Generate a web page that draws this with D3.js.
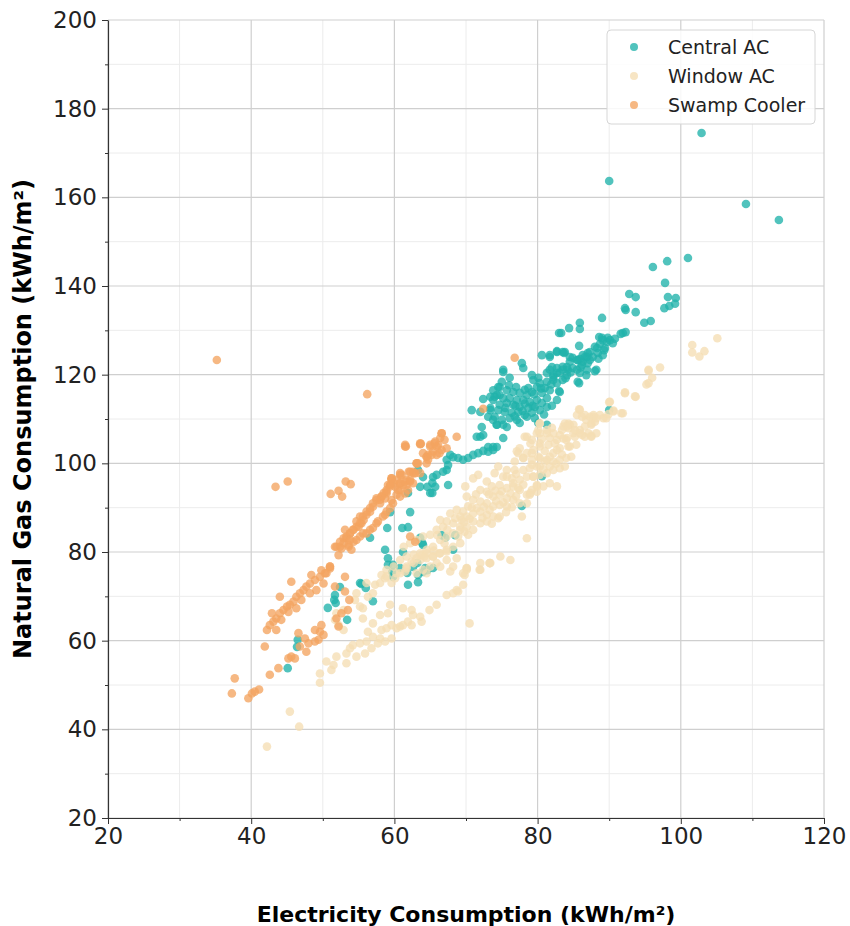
<!DOCTYPE html>
<html>
<head>
<meta charset="utf-8">
<script src="https://cdn.jsdelivr.net/npm/d3@7"></script>
<style>
  body { margin: 0; background: #fff; }
  svg { font-family: "DejaVu Sans", sans-serif; }
</style>
</head>
<body>
<svg id="myGraph" width="850" height="926"></svg>
<script>
var seriesNames = ["Central AC", "Window AC", "Swamp Cooler"];
var seriesColors = ["#20b2aa", "#f5deb3", "#f4a460"];
var xTicks = [20, 40, 60, 80, 100, 120];
var yTicks = [20, 40, 60, 80, 100, 120, 140, 160, 180, 200];

// [electricity, natural gas] in kWh/m2
var centralAC = [
[102.9,174.5],[90.0,163.7],[109.1,158.5],[113.7,154.9],[101.0,146.3],[96.1,144.3],[98.1,145.6],[97.8,140.7],[98.2,137.5],[99.3,137.3],[99.2,136.0],[98.4,135.5],[97.7,135.0],[92.8,138.2],[93.7,137.5],[92.2,135.0],[92.3,134.6],[93.7,134.1],[89.0,132.8],[95.8,132.1],[94.9,131.7],[85.9,131.7],[85.9,130.3],[84.4,130.5],[83.3,129.4],[83.0,129.4],[91.6,129.2],[92.3,129.6],[91.9,129.4],[88.6,128.5],[85.8,126.5],[88.2,121.1],[86.8,119.9],[85.8,118.1],[82.7,125.3],[83.7,124.9],
[88.0,126.3],[88.7,126.9],[89.1,127.8],[89.7,127.4],[90.1,127.8],[90.5,127.1],[88.4,124.9],[89.1,124.4],[87.7,124.0],[87.3,123.3],[86.6,124.0],[86.3,122.9],[85.6,123.3],[84.9,123.8],[84.5,122.9],[84.1,121.7],[83.5,121.1],[82.7,120.4],[82.2,119.5],[82.0,121.7],[83.5,125.1],[81.7,124.0],[85.5,121.1],[86.2,122.2],[87.0,124.9],[88.3,126.0],[89.4,126.0],[89.8,128.3],[89.0,128.3],
[90.8,128.1],[87.3,125.1],[86.9,124.0],[85.9,123.5],
[80.6,124.4],[81.7,124.4],[82.7,125.1],[83.8,125.1],[84.5,124.0],[85.5,123.3],[86.3,124.4],
[81.7,121.1],[82.7,121.5],[83.5,121.8],[84.2,121.1],[84.9,121.5],[84.1,119.9],[83.1,120.4],[82.2,119.9],[81.3,120.4],[80.1,119.3],
[79.4,118.8],[80.3,118.1],[81.3,118.4],[82.2,118.8],[79.9,117.2],[81.0,117.0],[81.7,116.5],[82.7,118.1],[83.5,118.8],[78.7,117.0],[79.2,116.1],[80.6,115.9],
[74.7,117.2],[75.7,116.5],[76.6,116.1],[77.5,115.9],[78.5,115.4],[76.1,114.7],[77.1,114.3],[78.0,114.3],[78.9,113.8],[79.9,114.3],[75.2,114.7],[74.3,115.4],[73.8,114.3],[74.7,113.2],[75.7,113.6],[76.6,113.2],[77.5,112.7],[78.7,112.5],[79.6,112.7],[80.6,113.6],[81.3,114.7],[73.4,112.5],[74.5,112.0],[75.4,111.6],[76.4,111.4],[77.3,111.6],[78.2,110.9],[79.2,111.4],[80.3,112.0],
[74.0,110.5],[75.0,109.8],[76.1,110.2],[77.1,109.8],[78.5,110.5],[79.6,110.2],[74.3,108.7],[75.7,108.2],[77.5,109.1],[80.1,109.1],
[72.4,114.5],[70.8,112.0],[73.4,115.0],[73.8,116.5],[75.0,118.4],[75.2,120.6],[76.1,119.3],[77.8,122.6],[78.0,121.5],[79.2,119.9],[75.2,105.7],[72.4,106.4],[73.1,103.7],[73.8,103.7],[81.3,108.7],[81.3,112.7],[83.0,116.3],[85.6,118.4],[88.0,120.8],[90.0,112.0],[77.8,90.4],[80.6,97.1],
[75.2,121.1],[72.0,111.6],[74.5,117.2],[74.7,115.4],[74.0,115.0],[73.4,112.0],[73.1,110.5],[73.8,109.8],[75.2,108.7],[74.3,108.7],[72.2,108.2],[71.5,106.0],[72.0,106.0],
[74.3,103.7],[73.8,103.0],[73.1,102.6],[72.4,102.8],[71.7,102.3],[71.0,101.9],[70.3,101.2],[69.6,100.8],[68.9,101.2],[68.2,101.4],[67.8,101.9],[67.3,100.8],[67.5,99.6],[66.8,98.1],[65.9,97.4],[65.4,96.9],[65.3,95.6],[64.6,94.7],[64.0,96.9],[63.6,94.7],[65.3,93.3],[63.3,98.5],[61.9,93.3],[62.2,89.0],[61.9,85.6],[61.1,85.4],[63.6,83.2],[63.9,82.0],[63.2,77.5],[64.3,76.4],[65.4,76.4],[61.8,75.3],
[67.3,98.5],[65.7,94.7],[65.0,93.3],[67.5,95.1],[59.4,89.0],[59.0,85.4],[56.6,83.2],[58.7,80.5],[61.2,80.0],[62.6,76.6],
[59.1,78.6],[59.8,77.1],[59.7,75.5],[60.8,76.4],[61.9,72.6],[63.3,73.2],[64.6,75.9],[68.2,80.5],[55.2,73.0],[55.4,72.8],[56.0,71.9],[57.0,68.9],[52.4,72.1],[51.7,70.3],[51.6,69.2],[51.8,68.5],[50.7,67.4],[53.4,64.7],[46.5,60.2],[46.4,58.6],[45.1,53.8],
[68.5,83.8],[67.1,83.2],[66.6,83.8],[64.0,81.6],[59.1,77.1],[59.8,74.4],[63.3,74.8],[64.0,75.5],
[83.1,116.1],[82.7,114.3],[85.9,120.4],[86.9,121.1],
[76.0,117.6],[77.0,117.2],[78.2,116.6],[79.5,115.6],[80.5,116.9],[76.9,113.0],[78.2,113.5],[79.3,113.0],[75.5,112.5],[76.8,110.6],[77.9,111.8],[80.9,111.0],[82.0,113.0],[81.9,117.8],[83.9,119.2],[84.6,120.5],[86.0,121.6],[87.0,122.6],[88.5,123.6],[89.3,125.5]
];

var windowAC = [
[80.3,109.0],[81.3,106.8],[79.9,106.8],[78.5,106.0],[79.2,105.3],[81.7,105.7],[82.7,105.3],[83.6,108.3],[84.3,109.0],[85.0,106.8],[84.0,105.3],[85.4,104.2],[84.3,103.8],[83.1,103.4],[82.2,102.3],[80.3,103.8],[79.4,103.0],[78.5,102.3],[77.3,102.3],[76.8,100.4],
[78.0,101.2],[79.2,100.8],[80.3,101.2],[81.3,100.8],[82.2,100.4],[83.1,100.8],[84.0,101.2],[84.7,101.5],[79.9,99.3],[78.9,98.9],[78.0,98.5],[76.8,98.5],[75.7,98.5],[74.5,99.3],[74.0,97.8],[75.2,97.0],[76.4,96.6],[77.5,96.3],[78.5,97.0],[79.4,97.0],
[80.3,97.4],[81.3,97.8],[82.2,98.5],[83.1,98.9],[83.8,99.3],[81.7,95.5],[82.7,94.8],[80.8,94.8],[79.9,95.1],[79.2,94.0],[78.5,92.9],[77.5,94.0],[76.6,94.8],[75.7,94.4],[74.7,95.1],[73.6,94.8],[72.9,95.9],[71.7,97.4],[71.0,96.6],[72.0,94.0],
[72.9,93.6],[73.8,92.5],[74.7,92.9],[75.7,92.1],[76.6,91.8],[77.5,91.0],[75.7,90.3],[74.7,90.6],[73.8,90.3],[72.9,91.0],[72.0,91.4],[71.0,91.8],[70.1,92.5],[69.9,94.8],[70.3,90.3],[69.6,89.1],[69.2,88.0],[70.1,88.0],[71.0,88.7],[72.0,89.1],
[72.9,88.4],[73.8,88.0],[74.7,88.0],[72.9,86.9],[72.0,86.5],[71.0,86.9],[70.1,85.7],[69.2,85.7],[68.2,86.5],[67.3,86.9],[66.4,87.2],[67.8,88.7],[68.7,89.5],[66.8,85.7],[65.9,85.0],[65.0,83.9],[64.0,83.5],[63.1,82.7],[62.2,82.0],[61.3,81.2],
[66.4,82.7],[67.3,83.5],[68.2,84.2],[69.2,85.0],[69.4,87.2],[65.4,81.2],[64.5,80.5],[63.6,79.7],[62.7,79.4],[61.7,79.0],[60.8,78.2],[59.9,76.7],[58.9,76.0],[58.2,74.8],[61.7,76.7],[62.7,77.5],[63.6,78.2],[64.5,78.6],[65.4,79.0],[66.4,79.7],
[67.3,80.5],[68.2,81.2],[69.2,82.0],[70.3,83.9],[71.0,85.0],[65.9,77.5],[65.0,76.7],[64.0,76.0],[63.1,75.2],[67.3,78.2],[68.7,78.6],[70.1,76.3],[72.0,77.5],[73.3,77.5],[74.5,87.6],[78.5,83.1],[77.8,88.0],[78.9,92.9],[79.9,93.6],
[95.5,121.1],[95.5,118.1],[92.2,115.8],[93.6,115.1],[90.1,113.9],[90.6,111.7],[91.7,111.3],[88.7,110.9],[89.2,110.2],[87.8,110.5],[86.8,109.8],[87.5,108.7],[88.0,109.4],[85.9,112.1],[86.6,110.9],[85.5,110.9],[85.0,108.7],[83.8,109.0],[84.3,107.9],[85.9,107.5],
[86.6,106.0],[87.5,106.0],[88.2,106.8],[85.2,106.0],[84.1,105.7],[83.1,106.4],[82.2,106.8],[81.3,107.5],[80.3,106.8],[80.3,109.0],[80.1,107.5],[78.2,106.0],[79.0,104.5],[80.3,104.5],[81.5,104.2],[82.4,104.5],[82.7,103.0],[81.7,101.5],[81.0,100.4],[80.1,101.5],
[79.2,102.3],[77.5,103.4],[77.1,102.7],[78.0,101.2],[79.2,99.7],[80.3,99.3],[81.7,99.3],[79.4,97.0],[79.9,94.8],[79.0,93.3],[78.5,91.0],[77.3,94.4],[76.6,95.5],[75.7,97.0],
[73.4,77.5],[72.0,76.0],[70.1,76.4],[68.2,76.7],[74.8,79.0],[76.2,78.2],
[56.1,73.0],[57.3,72.6],[58.0,73.0],[58.7,74.1],[59.6,73.0],[60.1,74.1],[60.8,75.2],[61.7,76.3],[62.4,77.8],[63.1,78.6],[63.8,79.3],[64.5,79.7],[65.4,79.0],[66.3,79.7],[67.3,80.1],[57.0,70.7],[56.3,69.9],[54.7,70.7],[54.5,69.2],[55.2,67.7],
[55.6,67.3],[52.9,66.9],[51.9,66.2],[51.7,64.7],[52.9,62.4],[52.2,63.5],[55.6,65.0],[58.0,65.8],[59.1,66.2],[59.4,68.1],[61.2,67.3],[62.4,66.9],[62.6,65.8],[63.6,65.4],[64.9,66.9],[65.9,68.1],[67.3,70.3],[68.2,70.7],[68.9,71.1],[69.6,72.6],
[70.1,76.0],[69.8,74.8],[71.9,76.0],[73.3,77.5],[57.0,63.9],[58.2,62.4],[58.9,62.8],[59.6,63.5],[60.3,62.8],[60.8,63.2],[61.2,63.5],[61.9,64.3],[62.4,63.5],[63.8,64.3],[56.3,62.0],[57.0,60.9],[56.1,59.8],[55.2,59.4],[54.2,59.0],[53.8,58.3],
[53.3,57.1],[54.7,56.4],[55.9,57.1],[56.8,58.3],[57.7,59.4],[58.7,59.8],[59.6,60.5],[58.0,60.5],[53.3,54.9],[51.9,56.4],[51.5,54.5],[50.5,55.3],[51.2,53.4],[49.6,52.6],[49.6,50.5],[45.4,44.0],[46.7,40.6],[42.2,36.1],[70.5,63.9],[68.7,71.4],
[105.1,128.2],[101.6,126.7],[101.6,125.0],[102.6,124.1],[103.3,125.3],[97.1,121.6],[95.5,120.9],[96.0,119.3],[95.2,117.8],[93.7,115.0],[92.2,116.0],[90.0,113.8],[90.6,111.9],[91.9,111.3],[85.8,112.2],[86.2,110.5],[87.3,110.5],[87.8,110.9],[88.2,110.2],[89.6,110.2],
[89.9,111.1],[87.5,109.0],[86.6,108.3],[85.9,106.8],[84.5,108.7],[84.1,108.3],[85.2,107.5],[87.1,106.8],[87.5,106.2],[83.6,105.6],[84.5,103.8],[86.2,106.4],[83.4,107.5],
[58.9,74.5],[60.3,75.2],[61.5,75.6],[64.5,75.2],[66.4,76.7],[69.6,75.2],[67.8,75.6],
[70.5,87.5],[71.5,89.9],[72.5,90.2],[73.3,89.5],[74.2,91.5],[75.2,91.2],[76.2,93.2],[77.0,92.6],[73.2,93.0],[74.1,93.8],[75.0,93.7],[71.4,93.0],[70.8,90.0],[68.5,87.6],[69.7,86.7],[67.4,85.0],[68.9,83.5],[66.0,83.8],[67.0,81.9],[65.5,80.3],
[64.2,79.0],[69.8,84.6],[72.3,87.7],[73.6,86.4],[75.6,89.0],[76.4,90.1],[78.0,95.2],[77.0,97.6],[80.8,98.6],[82.6,99.9],[81.0,102.8],[83.4,102.0],[80.6,105.5],[82.0,108.0]
];

var swampCooler = [
[35.2,123.3],[56.2,115.6],[43.4,94.7],[45.1,95.9],[51.1,93.1],[52.2,93.8],[52.7,92.5],[53.2,95.9],[53.9,95.3],[76.8,123.8],[72.4,112.3],
[61.6,103.8],[63.6,104.3],[65.0,103.8],[66.1,104.1],[66.6,106.8],[67.0,105.3],[65.6,104.5],[66.3,102.3],[65.9,101.9],[64.5,101.5],[63.1,100.0],[62.6,98.1],[61.0,97.4],[59.6,96.6],[59.4,95.1],[60.8,95.5],[62.2,95.9],[61.9,94.0],[60.5,94.0],[58.9,93.2],
[58.2,92.5],[57.5,92.1],[57.0,91.0],[56.6,89.9],[56.1,89.1],[55.6,88.0],[55.4,86.5],[55.0,85.7],[54.2,85.0],[53.8,84.2],[53.3,83.1],[52.9,82.0],[52.4,81.2],[51.7,81.2],[53.6,81.2],[54.7,82.7],[55.6,84.2],[56.6,85.0],[57.5,86.5],[58.4,88.0],
[58.9,89.1],[59.8,91.0],[60.8,92.5],[61.5,93.2],[61.7,95.1],[62.6,95.5],[54.0,80.5],[53.1,85.0],[62.2,83.5],[48.4,74.8],[49.8,75.9],[51.0,76.3],[50.5,75.2],
[61.5,103.8],[63.7,104.4],[64.5,101.5],[63.1,100.0],[62.2,98.1],[62.9,97.8],[60.8,97.8],[61.7,96.3],[59.6,96.3],[59.1,95.1],[60.1,94.7],[60.8,94.0],[61.2,95.1],[58.9,93.6],[58.2,92.5],[57.5,91.7],[58.0,91.0],[57.0,90.2],[56.6,89.1],[56.1,88.4],
[55.7,87.2],[55.2,86.5],[54.7,85.7],[54.3,85.0],[53.8,84.2],[53.3,83.5],[52.9,83.1],[52.4,82.3],[51.9,81.2],[52.6,80.8],[53.6,81.6],[54.3,82.3],[55.2,83.5],[56.1,84.2],[57.0,85.4],[57.7,86.9],[58.7,88.4],[59.4,89.9],[59.6,91.7],[60.3,92.9],
[55.2,88.0],[54.7,86.9],[53.8,82.7],[52.2,79.3],[51.0,76.7],[62.9,82.3],
[51.0,76.7],[50.3,75.2],[49.6,74.4],[48.9,73.7],[48.2,72.9],[47.7,72.2],[47.3,71.4],[46.8,70.7],[46.3,69.9],[45.9,68.8],[45.4,68.1],[45.0,67.7],[44.5,66.9],[44.0,66.2],[43.5,65.0],[43.1,64.3],[42.6,63.5],[42.2,62.4],[43.5,62.4],[42.9,66.2],
[45.6,73.3],[44.0,69.9],[45.2,66.5],[44.2,64.7],[46.3,67.3],[47.0,69.2],[48.2,70.7],[49.1,71.4],[50.1,72.9],[53.1,74.4],[51.7,72.2],[53.1,71.1],[53.7,69.2],[53.5,66.9],[52.6,66.2],[51.9,65.0],[52.2,63.2],[49.8,63.5],[48.9,62.4],[49.6,62.0],
[50.1,61.3],[49.4,60.2],[48.9,59.8],[48.0,59.4],[47.5,60.5],[46.6,61.7],[46.8,58.7],[47.7,57.5],[45.6,56.4],[45.2,56.0],[46.1,56.0],[43.8,53.8],[42.6,52.3],[41.9,58.7],[37.7,51.5],[37.3,48.1],[39.6,47.0],[40.1,48.1],[40.5,48.5],[41.1,49.0],
[66.6,106.8],[66.4,105.7],[68.7,106.0],[61.5,104.2],[63.6,104.5],[65.0,104.2],[65.7,104.9],[65.9,103.8],[66.6,103.0],[67.3,103.4],[65.4,102.7],[64.7,101.9],[64.0,102.3],[63.3,100.0],[64.5,100.0],[62.7,97.8],[62.0,98.1],[60.8,97.4],[60.3,96.3],[59.9,95.5],
[59.4,94.8],[58.9,94.0],[58.5,93.3],[58.0,91.8],[58.7,92.1],[60.8,95.5],[61.5,95.9],[59.6,96.6],[63.6,97.8],[62.2,96.3],[64.7,100.8],[65.2,101.9]
];

var allSeries = [centralAC, windowAC, swampCooler];

var svg = d3.select("#myGraph");
var margin = {left: 108, right: 824, top: 20, bottom: 818};

var x = d3.scaleLinear().domain([20, 120]).range([margin.left, margin.right]);
var y = d3.scaleLinear().domain([20, 200]).range([margin.bottom, margin.top]);

var xMinor = d3.range(30, 120, 20);
var yMinor = d3.range(30, 200, 20);

// grid
var grid = svg.append("g");
grid.selectAll(".vminor").data(xMinor).enter().append("line")
  .attr("x1", d => x(d)).attr("x2", d => x(d))
  .attr("y1", margin.top).attr("y2", margin.bottom)
  .attr("stroke", "#ececec").attr("stroke-width", 1);
grid.selectAll(".hminor").data(yMinor).enter().append("line")
  .attr("x1", margin.left).attr("x2", margin.right)
  .attr("y1", d => y(d)).attr("y2", d => y(d))
  .attr("stroke", "#ececec").attr("stroke-width", 1);
grid.selectAll(".vmajor").data(xTicks).enter().append("line")
  .attr("x1", d => x(d)).attr("x2", d => x(d))
  .attr("y1", margin.top).attr("y2", margin.bottom)
  .attr("stroke", "#cfcfcf").attr("stroke-width", 1.2);
grid.selectAll(".hmajor").data(yTicks).enter().append("line")
  .attr("x1", margin.left).attr("x2", margin.right)
  .attr("y1", d => y(d)).attr("y2", d => y(d))
  .attr("stroke", "#cfcfcf").attr("stroke-width", 1.2);

// points
allSeries.forEach(function(data, i){
  svg.append("g").selectAll("circle")
    .data(data)
    .enter()
    .append("circle")
    .attr("cx", d => x(d[0]))
    .attr("cy", d => y(d[1]))
    .attr("r", 4.3)
    .attr("fill", seriesColors[i])
    .attr("fill-opacity", 0.78);
});

// axes
var xAxis = svg.append("g")
  .attr("transform", "translate(0," + margin.bottom + ")")
  .call(d3.axisBottom(x).tickValues(xTicks).tickSize(6).tickSizeOuter(0).tickPadding(4));
var yAxis = svg.append("g")
  .attr("transform", "translate(" + margin.left + ",0)")
  .call(d3.axisLeft(y).tickValues(yTicks).tickSize(6).tickSizeOuter(0).tickPadding(5));
svg.append("g")
  .attr("transform", "translate(0," + margin.bottom + ")")
  .call(d3.axisBottom(x).tickValues(xMinor).tickSize(3).tickFormat(""))
  .select(".domain").remove();
svg.append("g")
  .attr("transform", "translate(" + margin.left + ",0)")
  .call(d3.axisLeft(y).tickValues(yMinor).tickSize(3).tickFormat(""))
  .select(".domain").remove();

svg.selectAll(".domain").attr("stroke", "#333").attr("stroke-width", 1.2);
svg.selectAll(".tick line").attr("stroke", "#333");
svg.selectAll(".tick text").attr("font-size", 23).attr("fill", "#222")
  .attr("font-family", "DejaVu Sans");

svg.append("text")
  .attr("x", (margin.left + margin.right) / 2)
  .attr("y", 922)
  .attr("text-anchor", "middle")
  .attr("font-size", 22)
  .attr("font-weight", "bold")
  .text("Electricity Consumption (kWh/m²)");

svg.append("text")
  .attr("transform", "translate(31," + (margin.top + margin.bottom) / 2 + ") rotate(-90)")
  .attr("text-anchor", "middle")
  .attr("font-size", 24)
  .attr("font-weight", "bold")
  .text("Natural Gas Consumption (kWh/m²)");

// legend
var legend = svg.append("g");
legend.append("rect")
  .attr("x", 607).attr("y", 30).attr("width", 208).attr("height", 94)
  .attr("rx", 4)
  .attr("fill", "#fff").attr("fill-opacity", 0.85)
  .attr("stroke", "#d6d6d6");
var legendItems = legend.selectAll(".item")
  .data(seriesNames)
  .enter()
  .append("g")
  .attr("transform", (d, i) => "translate(634," + (47 + i * 29) + ")");
legendItems.append("circle")
  .attr("r", 4)
  .attr("fill", (d, i) => seriesColors[i])
  .attr("fill-opacity", 0.78);
legendItems.append("text")
  .attr("x", 34)
  .attr("dy", "0.35em")
  .attr("font-size", 19)
  .attr("fill", "#222")
  .text(d => d);
</script>
</body>
</html>
